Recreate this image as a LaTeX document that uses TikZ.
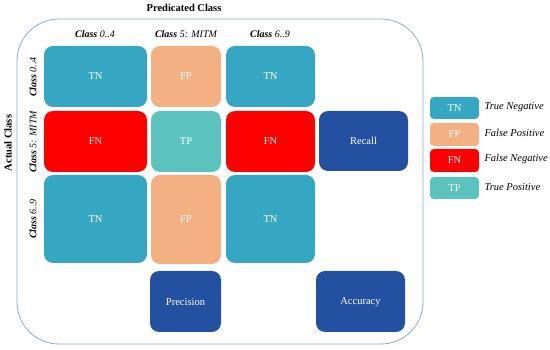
\documentclass[tikz,border=0pt]{standalone}
\usepackage{fontspec}
\setmainfont{Liberation Serif}
\definecolor{tn}{HTML}{35A7C2}
\definecolor{fp}{HTML}{F2B083}
\definecolor{fn}{HTML}{FF0000}
\definecolor{tp}{HTML}{5BC2BE}
\definecolor{met}{HTML}{2350A0}
\definecolor{frame}{HTML}{8FA6CF}
\begin{document}
\begin{tikzpicture}[x=1pt,y=-1pt,
  cell/.style={rounded corners=9pt},
  leg/.style={rounded corners=4pt},
  ctxt/.style={text=white,font=\fontsize{10.5}{12}\selectfont},
  ltxt/.style={text=white,font=\fontsize{10.5}{12}\selectfont},
  legtxt/.style={anchor=west,font=\fontsize{10.5}{12}\selectfont\itshape},
  hdr/.style={font=\fontsize{10}{12}\selectfont\itshape},
]
\useasboundingbox (0,0) rectangle (550,350);
\draw[frame,line width=0.8pt,rounded corners=42pt] (17,19) rectangle (423,344);
% titles
\node[font=\fontsize{10.5}{12}\selectfont\bfseries] (pc) at (184,8) {Predicated Class};
\node[font=\fontsize{10.5}{12}\selectfont\bfseries,rotate=90] (ac) at (8,143) {Actual Class};
\node[hdr] (h1) at (95,34) {\textbf{Class} 0..4};
\node[hdr] (h2) at (186,34) {\textbf{Class} 5: MITM};
\node[hdr] (h3) at (270,34) {\textbf{Class} 6..9};
\node[hdr,rotate=90] (r1) at (33,77) {\textbf{Class} 0..4};
\node[hdr,rotate=90] (r2) at (33,142) {\textbf{Class} 5: MITM};
\node[hdr,rotate=90] (r3) at (33,219) {\textbf{Class} 6..9};
% cells
\fill[tn,cell] (44,46) rectangle (147,107);
\node[ctxt] (c11) at (95.5,76.5) {TN};
\fill[fp,cell] (151,46) rectangle (221,107);
\node[ctxt] (c12) at (186,76.5) {FP};
\fill[tn,cell] (226,46) rectangle (315,107);
\node[ctxt] (c13) at (270.5,76.5) {TN};
\fill[fn,cell] (44,111) rectangle (147,172);
\node[ctxt] (c21) at (95.5,141.5) {FN};
\fill[tp,cell] (151,111) rectangle (221,172);
\node[ctxt] (c22) at (186,141.5) {TP};
\fill[fn,cell] (226,111) rectangle (315,172);
\node[ctxt] (c23) at (270.5,141.5) {FN};
\fill[met,cell] (319,111) rectangle (408,171);
\node[ctxt] (rec) at (363.5,141) {Recall};
\fill[tn,cell] (44,175) rectangle (147,263);
\node[ctxt] (c31) at (95.5,219) {TN};
\fill[fp,cell] (151,175) rectangle (221,264);
\node[ctxt] (c32) at (186,219.5) {FP};
\fill[tn,cell] (226,175) rectangle (315,263);
\node[ctxt] (c33) at (270.5,219) {TN};
\fill[met,cell] (150,271) rectangle (221,332);
\node[ctxt] (pre) at (185.5,302) {Precision};
\fill[met,cell] (316,271) rectangle (405,332);
\node[ctxt] (acc) at (360.5,302) {Accuracy};
% legend
\fill[tn,leg] (430,97) rectangle (479,119);
\node[ltxt] (l1) at (454.5,108) {TN};
\node[legtxt] (t1) at (481,107) {True Negative};
\fill[fp,leg] (430,123) rectangle (479,146);
\node[ltxt] (l2) at (454.5,134.5) {FP};
\node[legtxt] (t2) at (481,133) {False Positive};
\fill[fn,leg] (430,149) rectangle (479,172);
\node[ltxt] (l3) at (454.5,160.5) {FN};
\node[legtxt] (t3) at (481,159) {False Negative};
\fill[tp,leg] (430,177) rectangle (479,199);
\node[ltxt] (l4) at (454.5,188) {TP};
\node[legtxt] (t4) at (481,187) {True Positive};
\end{tikzpicture}
\end{document}
